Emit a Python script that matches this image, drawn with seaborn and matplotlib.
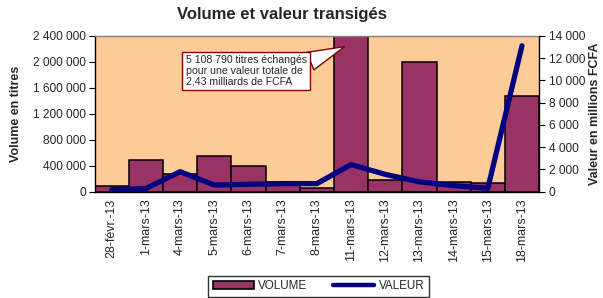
import numpy as np
import pandas as pd
import matplotlib
matplotlib.use("Agg")
import matplotlib.pyplot as plt
from matplotlib.patches import Patch
from matplotlib.lines import Line2D
import seaborn as sns

dates = ["28-févr.-13", "1-mars-13", "4-mars-13", "5-mars-13", "6-mars-13", "7-mars-13",
         "8-mars-13", "11-mars-13", "12-mars-13", "13-mars-13", "14-mars-13", "15-mars-13",
         "18-mars-13"]
volume = [92000, 488000, 265000, 552000, 397000, 154000, 62000, 5108790, 180000,
          1990000, 148000, 129000, 1478000]
valeur = [170, 280, 1790, 590, 660, 720, 720, 2430, 1550, 880, 540, 300, 13100]

left_ticks = [0, 400000, 800000, 1200000, 1600000, 2000000, 2400000]
right_ticks = [0, 2000, 4000, 6000, 8000, 10000, 12000, 14000]

def fmt(v):
    return f"{v:,}".replace(",", " ")

sns.set_style("white")
plt.rcParams["font.family"] = ["Liberation Sans", "DejaVu Sans"]

df = pd.DataFrame({"date": dates, "volume": volume, "valeur": valeur})

fig = plt.figure(figsize=(6.03, 2.98), dpi=100)
ax = fig.add_axes([0.157, 0.357, 0.737, 0.523])
ax.set_facecolor("#FFCC99")

sns.barplot(data=df, x="date", y="volume", ax=ax, color="#993366", width=1.0,
            edgecolor="black", linewidth=1.1, saturation=1, zorder=2)
ax.set_ylim(0, 2400000)
ax.set_xlim(-0.5, len(dates) - 0.5)
ax.set_yticks(left_ticks)
ax.set_yticklabels([fmt(v) for v in left_ticks], fontsize=8.6)
ax.set_xticks(range(len(dates)))
ax.set_xticklabels(dates, rotation=90, fontsize=9)
ax.set_xticks(np.arange(-0.5, len(dates), 1.0), minor=True)
ax.tick_params(axis="x", which="major", length=0, pad=5)
ax.tick_params(axis="x", which="minor", length=4, width=0.8, color="black", direction="out")
ax.tick_params(axis="y", length=4, width=0.8, color="black", direction="out", left=True, pad=2)
ax.set_xlabel("")
ax.set_ylabel("Volume en titres", fontsize=9, fontweight="bold", labelpad=8)
for s in ["left", "bottom"]:
    ax.spines[s].set_color("black")
    ax.spines[s].set_linewidth(1.0)
ax.spines["top"].set_color("#808080")
ax.spines["top"].set_linewidth(1.0)
ax.spines["right"].set_visible(False)

ax2 = ax.twinx()
sns.lineplot(x=np.arange(len(dates)), y=df["valeur"], ax=ax2, color="#000080",
             linewidth=3.8, sort=False, zorder=3)
ax2.set_ylim(0, 14000)
ax2.set_yticks(right_ticks)
ax2.set_yticklabels([fmt(v) for v in right_ticks], fontsize=8.6)
ax2.tick_params(axis="y", length=4, width=0.8, color="black", direction="out", right=True, pad=3)
ax2.set_ylabel("Valeur en millions FCFA", fontsize=9, fontweight="bold", labelpad=3)
ax2.spines["right"].set_color("black")
ax2.spines["right"].set_linewidth(1.0)
ax2.spines["top"].set_visible(False)
ax2.spines["left"].set_visible(False)
ax2.spines["bottom"].set_visible(False)
ax2.set_xlim(-0.5, len(dates) - 0.5)

fig.suptitle("Volume et valeur transigés", x=0.468, y=0.975, fontsize=12, fontweight="bold")

# callout annotation pointing to 11-mars bar
ax2.annotate("5 108 790 titres échangés\npour une valeur totale de\n2,43 milliards de FCFA",
             xy=(0.562, 0.93), xycoords="axes fraction",
             xytext=(0.2045, 0.876), textcoords="axes fraction",
             fontsize=7.6, va="top", ha="left", linespacing=1.1, zorder=5,
             bbox=dict(boxstyle="square,pad=0.3", fc="white", ec="#800000", lw=1.0),
             arrowprops=dict(arrowstyle="wedge,tail_width=1.8", fc="white", ec="#800000", lw=1.0,
                             shrinkA=0, shrinkB=0, relpos=(0.9, 0.6)))

handles = [Patch(facecolor="#993366", edgecolor="black", linewidth=1.2, label="VOLUME"),
           Line2D([0], [0], color="#000080", linewidth=3.2, label="VALEUR")]
fig.legend(handles=handles, loc="upper center", bbox_to_anchor=(0.528, 0.095), ncol=2,
           fontsize=8.4, frameon=True, fancybox=False, edgecolor="black",
           borderpad=0.4, columnspacing=2.2, handlelength=3.5, handletextpad=0.4)

fig.savefig("out.png", dpi=100)
